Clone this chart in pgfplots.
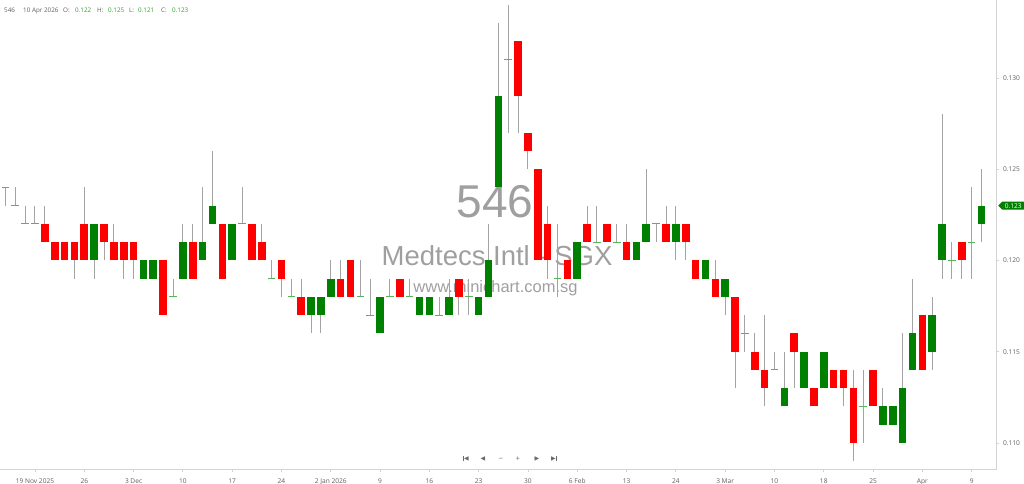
\documentclass[border=0pt]{standalone}
\usepackage{pgfplots}
\pgfplotsset{compat=1.18}
\usepackage{pgfplotstable}
\usepackage{fontspec}
\setmainfont{Open Sans}
\newfontfamily\wmfont{Liberation Sans}
\newfontfamily\symfont{DejaVu Sans}
\usetikzlibrary{shapes.symbols}

\definecolor{cRed}{HTML}{FF0000}
\definecolor{cGreen}{HTML}{008000}
\definecolor{cDoji}{HTML}{59B359}
\definecolor{cWick}{HTML}{A4A4A4}
\definecolor{cAxis}{HTML}{D4D4D4}
\definecolor{cLabel}{HTML}{5E5E5E}
\definecolor{cMark}{HTML}{9F9F9F}
\definecolor{cHead}{HTML}{2DA12D}
\definecolor{cNav}{HTML}{6A6A6A}

\newcommand\hdr{\fontsize{6.3bp}{8bp}\selectfont}

% daily OHLC, 546 Medtecs Intl (SGX), 14 Nov 2025 - 10 Apr 2026
\pgfplotstableread{
i  o     h     l     c
0  0.124 0.124 0.123 0.124
1  0.123 0.124 0.123 0.123
2  0.122 0.123 0.122 0.122
3  0.122 0.123 0.122 0.122
4  0.122 0.123 0.121 0.121
5  0.121 0.121 0.120 0.120
6  0.121 0.121 0.120 0.120
7  0.121 0.121 0.119 0.120
8  0.122 0.124 0.120 0.120
9  0.120 0.122 0.119 0.122
10 0.122 0.122 0.120 0.121
11 0.121 0.122 0.120 0.120
12 0.121 0.121 0.119 0.120
13 0.121 0.121 0.119 0.120
14 0.119 0.120 0.119 0.120
15 0.119 0.120 0.119 0.120
16 0.120 0.120 0.117 0.117
17 0.118 0.119 0.118 0.118
18 0.119 0.122 0.119 0.121
19 0.121 0.122 0.119 0.119
20 0.120 0.124 0.120 0.121
21 0.122 0.126 0.122 0.123
22 0.122 0.122 0.119 0.119
23 0.120 0.122 0.120 0.122
24 0.122 0.124 0.122 0.122
25 0.122 0.122 0.120 0.120
26 0.121 0.122 0.120 0.120
27 0.119 0.120 0.119 0.119
28 0.120 0.120 0.118 0.119
29 0.118 0.119 0.118 0.118
30 0.118 0.119 0.117 0.117
31 0.117 0.118 0.116 0.118
32 0.117 0.118 0.116 0.118
33 0.118 0.120 0.118 0.119
34 0.119 0.120 0.118 0.118
35 0.120 0.120 0.118 0.118
36 0.118 0.120 0.118 0.118
37 0.117 0.119 0.117 0.117
38 0.116 0.118 0.116 0.118
39 0.118 0.119 0.118 0.118
40 0.119 0.119 0.118 0.118
41 0.118 0.119 0.118 0.118
42 0.117 0.118 0.117 0.118
43 0.117 0.118 0.117 0.118
44 0.117 0.118 0.117 0.117
45 0.117 0.119 0.117 0.118
46 0.119 0.119 0.117 0.118
47 0.118 0.119 0.117 0.118
48 0.117 0.118 0.117 0.118
49 0.118 0.122 0.118 0.120
50 0.124 0.133 0.124 0.129
51 0.131 0.134 0.127 0.131
52 0.132 0.132 0.127 0.129
53 0.127 0.127 0.125 0.126
54 0.125 0.125 0.120 0.120
55 0.122 0.123 0.119 0.120
56 0.119 0.122 0.118 0.119
57 0.120 0.120 0.119 0.119
58 0.119 0.121 0.119 0.121
59 0.122 0.123 0.121 0.121
60 0.121 0.123 0.121 0.121
61 0.122 0.122 0.121 0.121
62 0.121 0.122 0.121 0.121
63 0.121 0.122 0.120 0.120
64 0.120 0.121 0.120 0.121
65 0.121 0.125 0.121 0.122
66 0.122 0.122 0.121 0.122
67 0.122 0.123 0.121 0.121
68 0.121 0.123 0.120 0.122
69 0.122 0.122 0.120 0.121
70 0.120 0.120 0.119 0.119
71 0.119 0.120 0.119 0.120
72 0.119 0.120 0.118 0.118
73 0.118 0.119 0.117 0.119
74 0.118 0.118 0.113 0.115
75 0.116 0.117 0.115 0.116
76 0.115 0.116 0.114 0.114
77 0.114 0.117 0.112 0.113
78 0.114 0.115 0.114 0.114
79 0.112 0.115 0.112 0.113
80 0.116 0.116 0.113 0.115
81 0.113 0.115 0.113 0.115
82 0.113 0.113 0.112 0.112
83 0.113 0.115 0.113 0.115
84 0.114 0.114 0.113 0.113
85 0.114 0.114 0.112 0.113
86 0.113 0.114 0.109 0.110
87 0.112 0.114 0.110 0.112
88 0.114 0.114 0.112 0.112
89 0.111 0.113 0.111 0.112
90 0.111 0.112 0.111 0.112
91 0.110 0.116 0.110 0.113
92 0.114 0.119 0.114 0.116
93 0.117 0.117 0.114 0.114
94 0.115 0.118 0.114 0.117
95 0.120 0.128 0.119 0.122
96 0.120 0.121 0.119 0.120
97 0.121 0.121 0.119 0.120
98 0.121 0.124 0.119 0.121
99 0.122 0.125 0.121 0.123
}\ohlc

\begin{document}
\begin{tikzpicture}
% watermark behind the candles
\node[anchor=base, inner sep=0, text=cMark, font=\wmfont\fontsize{46bp}{46bp}\selectfont] at (495bp,251bp) {546};
\node[anchor=base, inner sep=0, text=cMark, font=\wmfont\fontsize{27.5bp}{28bp}\selectfont] at (497bp,203bp) {Medtecs Intl - SGX};
\node[anchor=base, inner sep=0, text=cMark, font=\wmfont\fontsize{16.5bp}{17bp}\selectfont] at (495.5bp,176bp) {www.minichart.com.sg};

\begin{axis}[
  at={(0,0)}, anchor=south west,
  width=996.5bp, height=469bp, scale only axis,
  xmin=-0.548, xmax=100.52,
  ymin=0.108575, ymax=0.13427,
  axis x line*=bottom, axis y line*=right,
  axis line style={draw=cAxis, line width=0.8bp, -},
  tick align=outside, major tick length=3bp,
  tick style={draw=cAxis, line width=0.8bp},
  xtick={3,8,...,98},
  xticklabels={19 Nov 2025,26,3 Dec,10,17,24,2 Jan 2026,9,16,23,30,6 Feb,13,24,3 Mar,10,18,25,Apr,9},
  ytick={0.110,0.115,0.120,0.125,0.130},
  scaled y ticks=false,
  /pgf/number format/assume math mode=true,
  yticklabel style={/pgf/number format/fixed, /pgf/number format/fixed zerofill, /pgf/number format/precision=3},
  ticklabel style={font=\fontsize{6.6bp}{8bp}\selectfont, text=cLabel},
  xticklabel style={anchor=base, yshift=-11.7bp},
  yticklabel style={anchor=west},
  extra y ticks={0.123},
  extra y tick style={tick style={draw=none},
    yticklabel style={fill=cGreen, text=white, shape=signal, signal to=west,
      inner xsep=2.5bp, inner ysep=1.6bp, anchor=west, xshift=-1.5bp, font=\fontsize{6.6bp}{8bp}\selectfont}},
]
% wicks
\addplot[draw=none, mark=none, forget plot,
  error bars/.cd, y dir=plus, y explicit, error mark=none,
  error bar style={draw=cWick, line width=1bp}]
  table[x=i, y=l, y error plus expr={\thisrow{h}-\thisrow{l}}] {\ohlc};
% falling bodies
\addplot[draw=none, mark=none, forget plot,
  restrict expr to domain={\thisrow{o}-\thisrow{c}}{0.0005:1},
  error bars/.cd, y dir=plus, y explicit, error mark=none,
  error bar style={draw=cRed, line width=7.6bp}]
  table[x=i, y=c, y error plus expr={\thisrow{o}-\thisrow{c}}] {\ohlc};
% rising bodies
\addplot[draw=none, mark=none, forget plot,
  restrict expr to domain={\thisrow{c}-\thisrow{o}}{0.0005:1},
  error bars/.cd, y dir=plus, y explicit, error mark=none,
  error bar style={draw=cGreen, line width=7.6bp}]
  table[x=i, y=o, y error plus expr={\thisrow{c}-\thisrow{o}}] {\ohlc};
% unchanged days
\addplot[only marks, mark=-, mark size=3.8bp, forget plot,
  mark options={draw=cDoji, line width=1bp},
  restrict expr to domain={\thisrow{c}-\thisrow{o}}{-0.0005:0.0005}]
  table[x=i, y=c] {\ohlc};
\end{axis}

% header line
\node[anchor=base west, inner sep=0, font=\hdr, text=cLabel] at (4bp,456bp) {546};
\node[anchor=base west, inner sep=0, font=\hdr, text=cLabel] at (23bp,456bp) {10 Apr 2026};
\node[anchor=base west, inner sep=0, font=\hdr, text=cLabel] at (63bp,456bp) {O:};
\node[anchor=base west, inner sep=0, font=\hdr, text=cHead] at (75bp,456bp) {0.122};
\node[anchor=base west, inner sep=0, font=\hdr, text=cLabel] at (97bp,456bp) {H:};
\node[anchor=base west, inner sep=0, font=\hdr, text=cHead] at (108bp,456bp) {0.125};
\node[anchor=base west, inner sep=0, font=\hdr, text=cLabel] at (129bp,456bp) {L:};
\node[anchor=base west, inner sep=0, font=\hdr, text=cHead] at (138bp,456bp) {0.121};
\node[anchor=base west, inner sep=0, font=\hdr, text=cLabel] at (161bp,456bp) {C:};
\node[anchor=base west, inner sep=0, font=\hdr, text=cHead] at (172bp,456bp) {0.123};

% navigation buttons
\begin{scope}[every node/.style={inner sep=0, text=cNav, font=\symfont\fontsize{6bp}{7bp}\selectfont}]
\node at (466bp,10bp) {\rule[-0.3bp]{0.9bp}{5bp}\kern0.2bp◀};
\node at (483bp,10bp) {◀};
\node at (501bp,10bp) {−};
\node at (518bp,10bp) {+};
\node at (537bp,10bp) {▶};
\node at (554bp,10bp) {▶\kern0.2bp\rule[-0.3bp]{0.9bp}{5bp}};
\end{scope}

\pgfresetboundingbox
\path[use as bounding box] (0,-15bp) rectangle (1024bp,469bp);
\end{tikzpicture}
\end{document}
